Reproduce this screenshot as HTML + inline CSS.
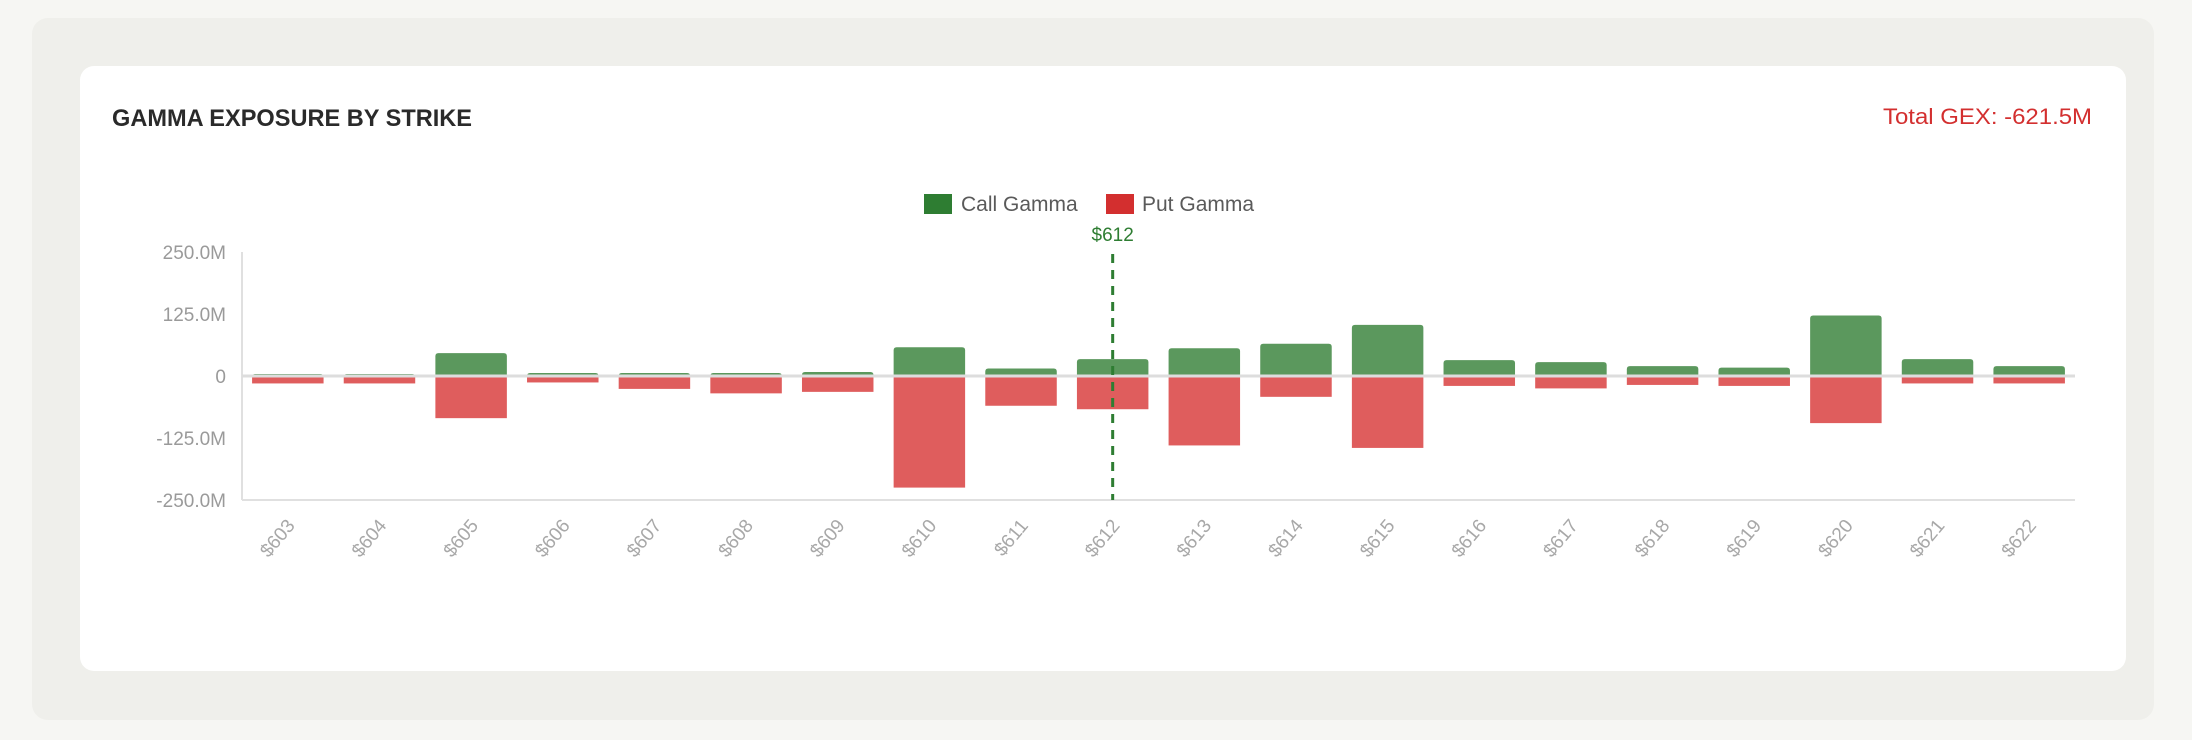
<!DOCTYPE html>
<html><head><meta charset="utf-8"><style>
html,body{margin:0;padding:0;background:#f6f6f3;width:2192px;height:740px;overflow:hidden;font-family:"Liberation Sans",sans-serif}
</style></head><body>
<svg width="2192" height="740" xmlns="http://www.w3.org/2000/svg">
<rect x="32" y="18" width="2122" height="702" rx="16" fill="#efefeb"/>
<rect x="80" y="66" width="2046" height="605" rx="14" fill="#ffffff"/>
<text x="112" y="126" font-size="24" font-weight="bold" fill="#2a2a2a" textLength="360" lengthAdjust="spacingAndGlyphs">GAMMA EXPOSURE BY STRIKE</text>
<text x="2092" y="124" font-size="22" fill="#d32f2f" text-anchor="end" textLength="209" lengthAdjust="spacingAndGlyphs">Total GEX: -621.5M</text>
<g id="legend">
<rect x="924" y="194" width="28" height="20" fill="#2e7d32"/>
<text x="961" y="211" font-size="21" fill="#5a5a5a">Call Gamma</text>
<rect x="1106" y="194" width="28" height="20" fill="#d32f2f"/>
<text x="1142" y="211" font-size="21" fill="#5a5a5a">Put Gamma</text>
</g>
<g id="chart"></g>
</svg>
<script>
const strikes = [603,604,605,606,607,608,609,610,611,612,613,614,615,616,617,618,619,620,621,622];
const callGamma = [4,4,46,6,6,6,8,58,15,34,56,65,103,32,28,20,17,122,34,20];
const putGamma = [-15,-15,-85,-13,-26,-35,-32,-225,-60,-67,-140,-42,-145,-20,-25,-18,-20,-95,-15,-15];
const yTicks = [250,125,0,-125,-250];
const yTickLabels = ["250.0M","125.0M","0","-125.0M","-250.0M"];
const spotStrike = 612;

const NS = "http://www.w3.org/2000/svg";
const g = document.getElementById('chart');
const X0 = 242, X1 = 2075, Y0 = 376, YTOP = 252, YBOT = 500;
const band = (X1 - X0) / strikes.length;
const bw = band * 0.78;
function xc(i){ return X0 + band * (i + 0.5); }
function y(v){ return Y0 - v * (Y0 - YTOP) / 250; }
function mk(tag, attrs){ const e = document.createElementNS(NS, tag); for (const k in attrs) e.setAttribute(k, attrs[k]); g.appendChild(e); return e; }

yTicks.forEach((t, i) => {
  const e = mk('text', {x: 226, y: y(t) + 7, 'font-size': 19, fill: '#9a9a9a', 'text-anchor': 'end'});
  e.textContent = yTickLabels[i];
  
  
});
const ax = mk('line', {x1: X0, y1: YTOP, x2: X0, y2: YBOT, stroke: '#e0e0e0', 'stroke-width': 2});


const bx = mk('line', {x1: X0, y1: YBOT, x2: X1, y2: YBOT, stroke: '#e0e0e0', 'stroke-width': 2});



strikes.forEach((s, i) => {
  const x = xc(i) - bw / 2;
  const cv = callGamma[i], pv = putGamma[i];
  const c = mk('path', {d: `M${x},${y(0)} V${y(cv)+3} Q${x},${y(cv)} ${x+3},${y(cv)} H${x+bw-3} Q${x+bw},${y(cv)} ${x+bw},${y(cv)+3} V${y(0)} Z`, fill: '#5b985d'});
  
  
  const p = mk('rect', {x: x, y: y(0), width: bw, height: y(pv) - y(0), fill: '#df5d5d'});
  
  
  const lx = xc(i) + 8, ly = 526;
  const t = mk('text', {x: lx, y: ly, 'font-size': 19, fill: '#a8a8a8', 'text-anchor': 'end', transform: `rotate(-50 ${lx} ${ly})`});
  t.textContent = '$' + s;
  
  
});
const zl = mk('line', {x1: X0, y1: Y0, x2: X1, y2: Y0, stroke: '#dddddd', 'stroke-width': 3});



const si = strikes.indexOf(spotStrike);
const sl = mk('line', {x1: xc(si), y1: YTOP + 2, x2: xc(si), y2: YBOT, stroke: '#2e7d32', 'stroke-width': 3, 'stroke-dasharray': '9,7'});


const st = mk('text', {x: xc(si), y: 241, 'font-size': 19, fill: '#2e7d32', 'text-anchor': 'middle'});
st.textContent = '$' + spotStrike;


</script>
</body></html>
